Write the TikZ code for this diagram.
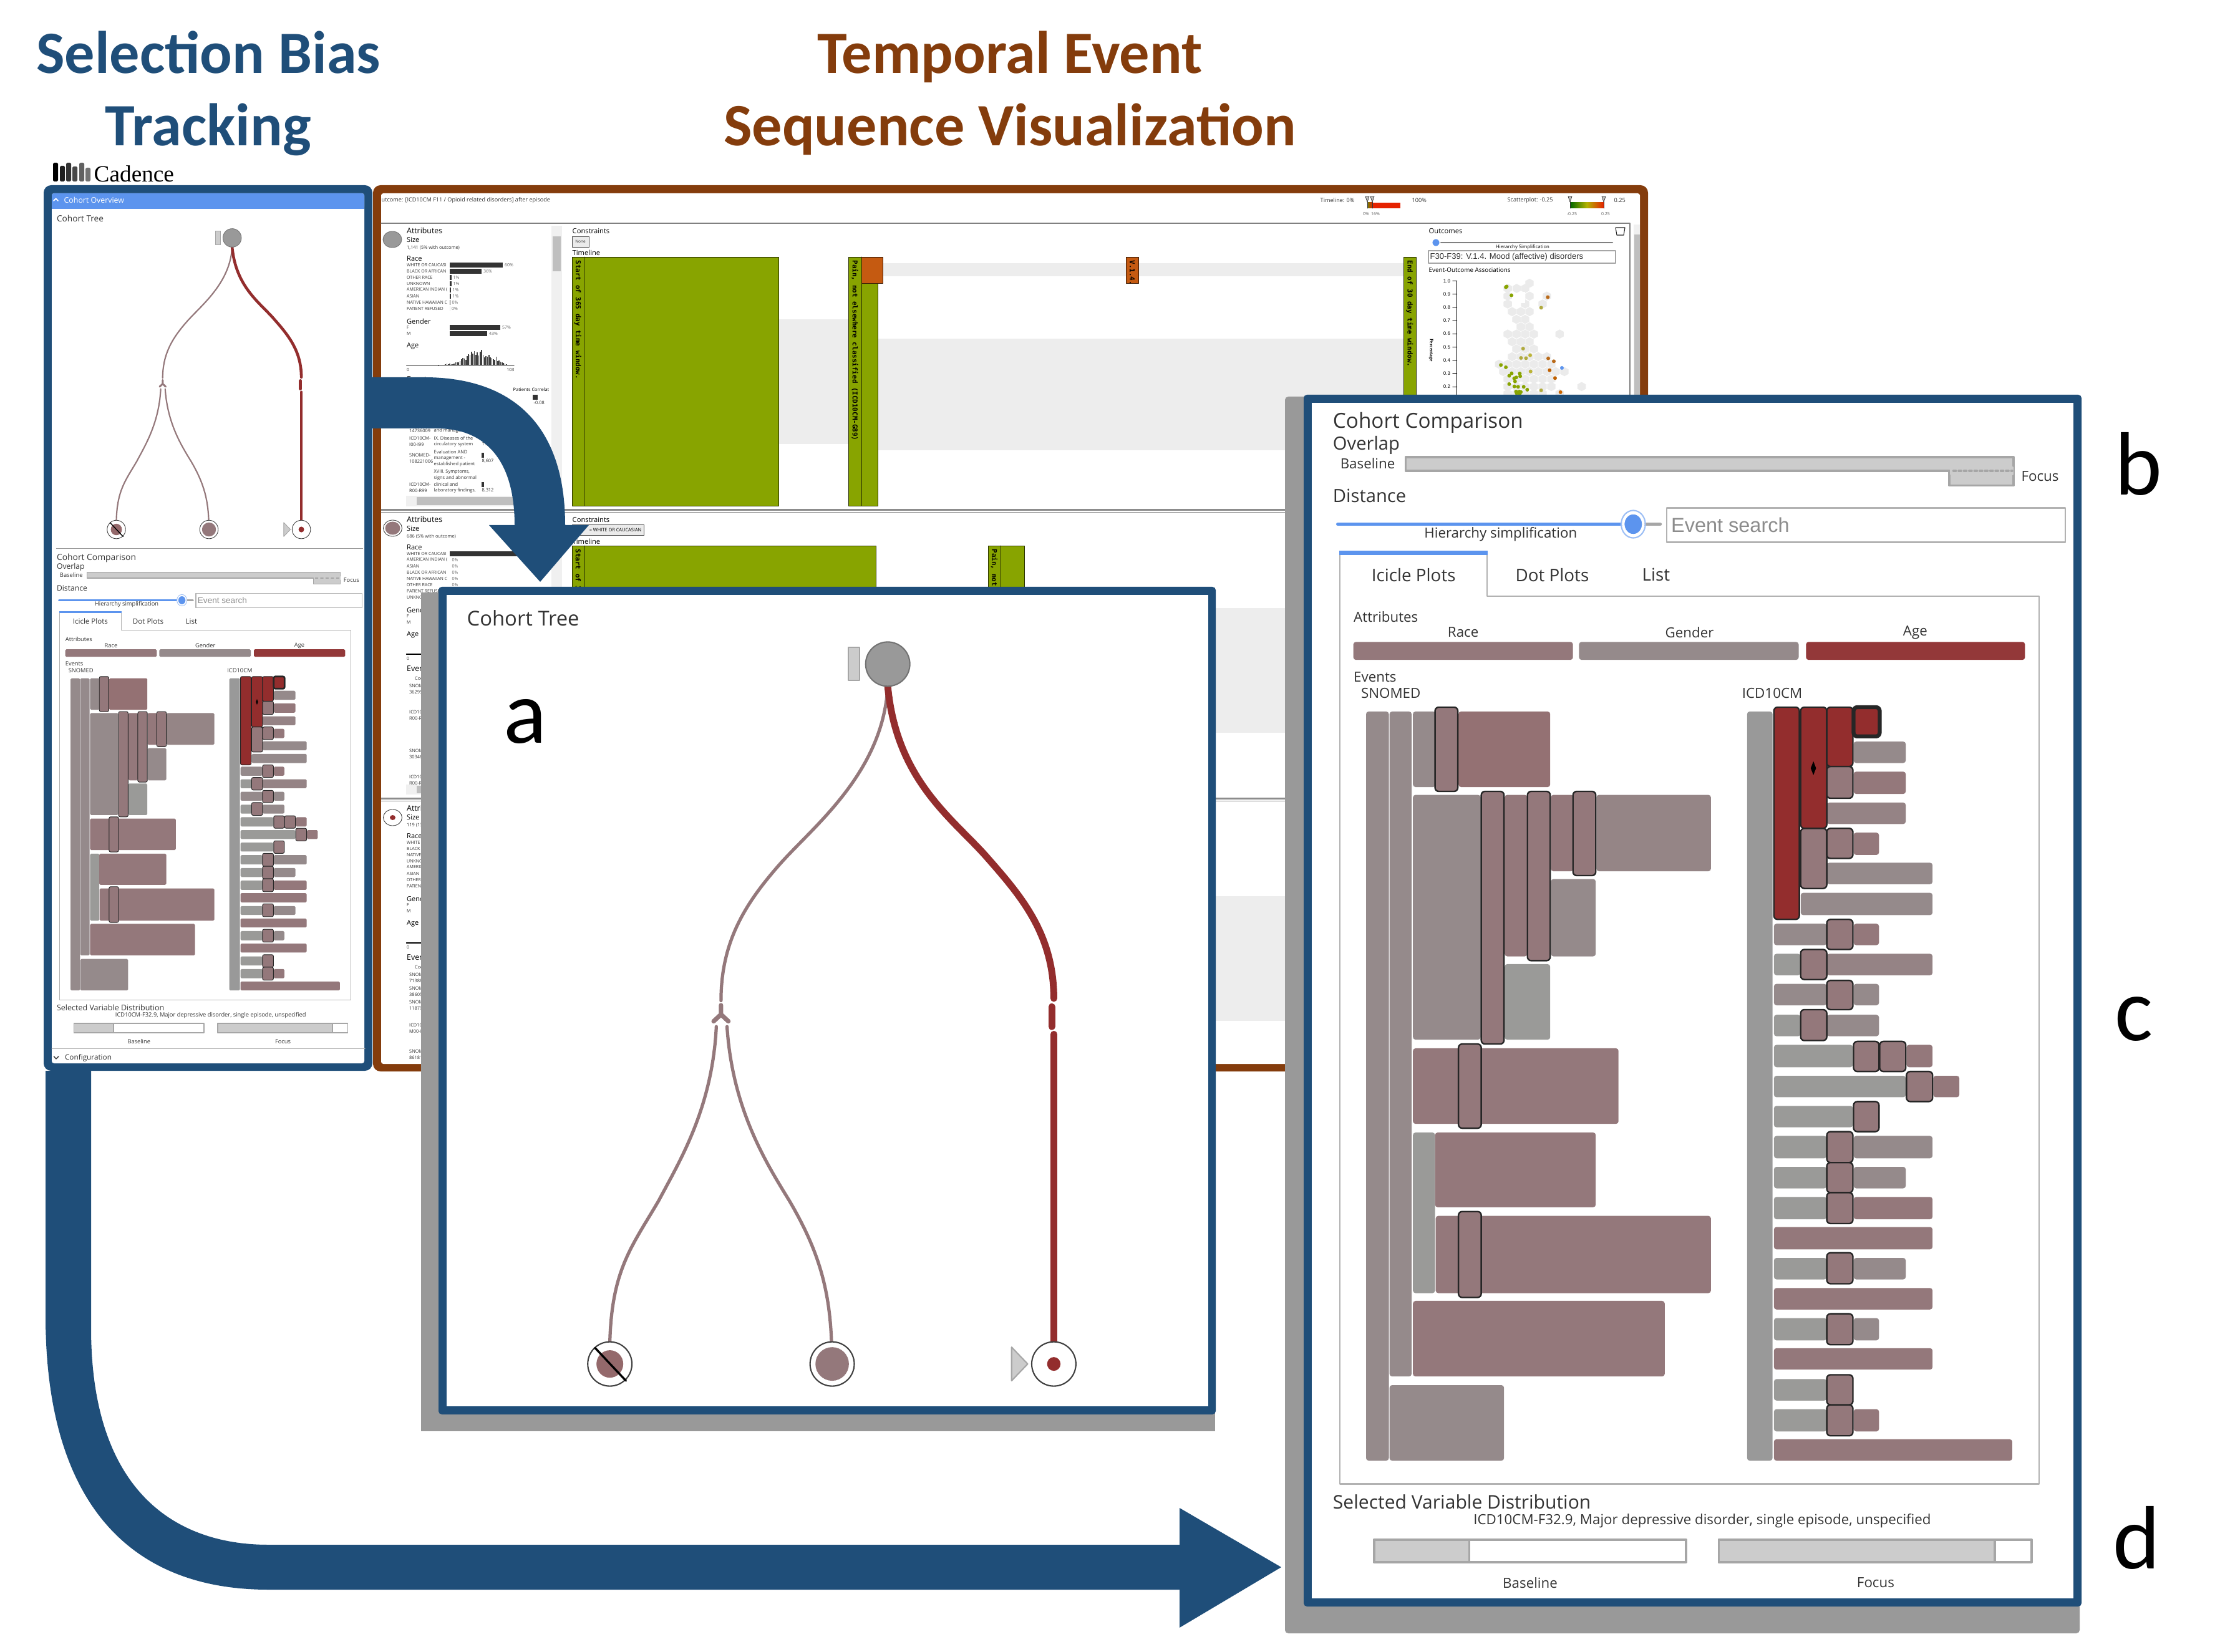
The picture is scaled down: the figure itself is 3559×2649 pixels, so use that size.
\documentclass[tikz,border=0pt]{standalone}
\usepackage{fontspec}
\usepackage{xcolor}
\setmainfont{Open Sans}
\newfontfamily\titlefont{Carlito}
\newfontfamily\cadfont{Liberation Serif}
\newfontfamily\arialfont{Liberation Sans}
\newfontfamily\barfont{DejaVu Sans Mono}
\definecolor{trackblue}{HTML}{1F4E79}
\definecolor{seqbrown}{HTML}{843C0C}
\definecolor{uiblue}{HTML}{5C94EE}
\definecolor{icegray}{HTML}{958A8B}
\definecolor{icerose}{HTML}{94787B}
\definecolor{iceplain}{HTML}{9A9A98}
\definecolor{icered}{HTML}{932D2D}
\definecolor{evgreen}{HTML}{88A400}
\definecolor{evorange}{HTML}{C55A11}
\definecolor{uitext}{HTML}{333333}
\newcommand{\fx}[1]{\fontsize{#1}{#1}\selectfont}
\newcommand{\fs}[1]{\pgfmathsetmacro\fsz{#1*1.08}\fontsize{\fsz}{\fsz}\selectfont}
\def\lwf{1}
\tikzset{
	lbl/.style={anchor=west,inner sep=0pt,text=uitext},
	clbl/.style={anchor=center,inner sep=0pt,text=uitext},
	icebar/.style={rounded corners=\lwf*0.5pt},
	icebox/.style={draw=black!85,fill=icerose,line width=\lwf*0.28pt,rounded corners=\lwf*0.7pt},
	uibar/.style={draw=black!35,fill=black!20,line width=\lwf*0.4pt},
	thinlink/.style={draw=icerose,line width=\lwf*0.62pt},
	thicklink/.style={draw=icered,line width=\lwf*1.3pt},
	leafdot/.style={draw=black!75,fill=white,line width=\lwf*0.25pt},
	evbar/.style={draw=black!70!evgreen,fill=evgreen,line width=0.25pt},
	vlabel/.style={rotate=-90,anchor=west,inner sep=0pt,font=\barfont\bfseries\fx{3.1},text=black},
	bandbg/.style={fill=black!7},
	bluebig/.style={fill=trackblue},
	bigtitle/.style={anchor=base,inner sep=0pt,font=\titlefont\bfseries\fx{27.4}},
	sideletter/.style={anchor=base,inner sep=0pt,font=\titlefont\fx{41},text=black},
}
% tree, coordinates of the small panel as read off a 2.24 x 1.96 crop
\newcommand{\cohorttree}{
	\begin{scope}[x=0.004464cm,y=-0.0051cm]
	\node[lbl,font=\fs{3.6}] at (202,237) {Cohort Tree};
	\draw[thinlink] (832,326) .. controls (825,440) and (720,510) .. (670,560) .. controls (620,610) and (583,660) .. (583,738);
	\draw[thicklink] (832,326) .. controls (845,450) and (930,500) .. (980,550) .. controls (1030,600) and (1080,650) .. (1080,735);
	\draw[thinlink,line width=\lwf*0.85pt] (583,744) -- (583,756) (572,765) -- (583,756) -- (594,765);
	\draw[thinlink] (576,772) .. controls (570,880) and (520,950) .. (490,1000) .. controls (450,1060) and (420,1090) .. (417,1185);
	\draw[thinlink] (592,772) .. controls (600,880) and (650,950) .. (685,1000) .. controls (725,1060) and (745,1110) .. (748,1185);
	\draw[thicklink] (1077,746) -- (1077,772);
	\draw[thicklink] (1080,782) -- (1080,1185);
	\draw[fill=black!20,draw=black!35,line width=\lwf*0.25pt] (773,275) rectangle (790,318);
	\draw[fill=black!40,draw=black!55,line width=\lwf*0.25pt] (832,297) ellipse [x radius=33,y radius=29];
	\draw[leafdot] (417,1214) ellipse [x radius=33,y radius=29];
	\fill[fill=icerose!80!icered] (417,1214) ellipse [x radius=20,y radius=18];
	\draw[black,line width=\lwf*0.4pt] (395,1193) -- (441,1236);
	\draw[leafdot] (749,1214) ellipse [x radius=33,y radius=29];
	\fill[fill=icerose] (749,1214) ellipse [x radius=25,y radius=22];
	\draw[leafdot] (1080,1214) ellipse [x radius=33,y radius=29];
	\fill[fill=icered] (1080,1214) ellipse [x radius=10,y radius=9];
	\draw[fill=black!20,draw=black!35,line width=\lwf*0.25pt] (1017,1192) -- (1041,1214) -- (1017,1236) -- cycle;
	\end{scope}
}
% comparison view, coordinates as read off a 2.24 x 1.742 crop
\newcommand{\comparison}{
	\begin{scope}[x=0.004464cm,y=-0.00574cm]
	\node[lbl,font=\fs{3.65}] at (202,78) {Cohort Comparison};
	\node[lbl,font=\fs{3.2}] at (202,104) {Overlap};
	\node[lbl,font=\fs{2.45}] at (213,125) {Baseline};
	\draw[uibar] (312,118) -- (1220,118) -- (1220,151) -- (1124,151) -- (1124,134) -- (312,134) -- cycle;
	\draw[fill=black!20,draw=black!20,line width=\lwf*0.4pt] (1126,130) rectangle (1218,138);
	\draw[black!35,dashed,line width=\lwf*0.4pt,dash pattern=on 1.2pt off 1.2pt] (1130,134) -- (1218,134);
	\node[lbl,font=\fs{2.45}] at (1230,140) {Focus};
	\node[lbl,font=\fs{3.2}] at (202,163) {Distance};
	\draw[uiblue,line width=\lwf*0.7pt] (211,196) -- (650,196);
	\draw[black!35,line width=\lwf*0.7pt] (650,196) -- (692,196);
	\draw[fill=uiblue,draw=white,line width=\lwf*0.5pt] (652,196) ellipse [x radius=15,y radius=13];
	\draw[draw=uiblue!60,line width=\lwf*0.25pt] (652,196) ellipse [x radius=18,y radius=16];
	\node[clbl,font=\fs{2.45}] at (454,208) {Hierarchy simplification};
	\draw[draw=black!30,line width=\lwf*0.3pt] (702,177) rectangle (1297,217);
	\node[lbl,text=black!45,font=\arialfont\fx{3.85}] at (707,197) {Event search};
	\draw[draw=black!30,line width=\lwf*0.25pt] (214,230) -- (214,1313) -- (1258,1313) -- (1258,280) -- (434,280) -- (434,230);
	\fill[uiblue] (213,227) rectangle (435,232);
	\node[clbl,font=\fs{3.05}] at (324,255) {Icicle Plots};
	\node[clbl,font=\fs{3.05}] at (531,255) {Dot Plots};
	\node[clbl,font=\fs{3.05}] at (686,255) {List};
	\node[lbl,font=\fs{2.45}] at (233,304) {Attributes};
	\node[clbl,font=\fs{2.45}] at (398,322) {Race};
	\node[clbl,font=\fs{2.45}] at (736,322) {Gender};
	\node[clbl,font=\fs{2.45}] at (1073,322) {Age};
	\node[lbl,font=\fs{2.45}] at (233,374) {Events};
	\node[lbl,font=\fs{2.45}] at (244,393) {SNOMED};
	\node[lbl,font=\fs{2.45}] at (813,393) {ICD10CM};
	\foreach \xa/\xb/\col in {234/562/icerose,571/899/icegray,910/1237/icered!85!icerose}
		\fill[icebar,fill=\col] (\xa,333) rectangle (\xb,354);
	% SNOMED part
	\foreach \xa/\ya/\xb/\yb/\col in {253/414/287/1286/icegray,288/414/321/1188/icegray,288/1198/459/1286/icegray,
		323/414/357/502/icegray,391/414/528/502/icerose!90!icered,323/511/424/796/icegray,460/511/494/699/icerose,
		529/511/563/600/icerose,597/511/768/600/icegray!70!icerose,529/609/596/699/icegray,460/708/528/796/iceplain,
		323/806/630/894/icerose,323/904/356/1091/iceplain,356/904/596/991/icerose,357/1001/768/1091/icerose,323/1100/699/1188/icerose}
		\fill[icebar,fill=\col] (\xa,\ya) rectangle (\xb,\yb);
	\foreach \xa/\ya/\xb/\yb in {356/409/390/507,425/507/459/801,494/507/528/704,562/507/596/605,391/801/425/899,391/996/425/1096}
		\draw[icebox] (\xa,\ya) rectangle (\xb,\yb);
	% ICD10CM part
	\fill[icebar,fill=black!40] (822,414) rectangle (860,1286);
	\foreach \xa/\ya/\xb/\yb/\col in {981/449/1059/474/icegray,981/484/1059/510/icerose,941/520/1059/545/icegray!60!icerose,
		981/555/1019/581/icerose,941/590/1099/615/icegray,902/625/1099/651/icegray,
		862/661/941/686/icegray,981/661/1019/686/icerose,862/696/902/721/iceplain,941/696/1099/721/icegray!60!icerose,
		862/731/941/756/icegray,981/731/1019/756/icegray,862/767/902/792/iceplain,941/767/1019/792/icegray,
		862/802/980/828/iceplain,1060/802/1099/828/icerose,862/838/1059/863/iceplain,1100/838/1139/863/icerose,
		862/873/980/898/iceplain,862/908/941/934/iceplain,981/908/1099/934/icegray,862/944/941/969/iceplain,981/944/1059/969/icegray,
		862/979/941/1005/iceplain,981/979/1099/1005/icerose,862/1014/1099/1040/icerose,862/1050/941/1075/iceplain,981/1050/1059/1075/icegray,
		862/1085/1099/1110/icerose,862/1120/941/1146/iceplain,981/1120/1019/1146/icegray,862/1155/1099/1180/icerose,
		862/1191/941/1216/iceplain,862/1226/941/1252/iceplain,981/1226/1019/1252/icerose,862/1261/1218/1286/icerose}
		\fill[icebar,fill=\col] (\xa,\ya) rectangle (\xb,\yb);
	\foreach \xa/\ya/\xb/\yb in {941/478/980/515,902/550/941/620,941/550/980/585,941/656/980/691,902/691/941/726,941/727/980/761,
		902/761/941/797,981/798/1019/833,1020/798/1059/833,1060/833/1099/868,981/868/1019/903,941/903/980/939,941/939/980/974,
		941/974/980/1010,941/1044/980/1080,941/1115/980/1151,941/1186/980/1221,941/1221/980/1257}
		\draw[icebox] (\xa,\ya) rectangle (\xb,\yb);
	\foreach \xa/\ya/\xb/\yb in {862/409/900/656,902/409/941/550,941/409/980/478}
		\draw[icebox,fill=icered] (\xa,\ya) rectangle (\xb,\yb);
	\draw[icebox,fill=icered,line width=\lwf*0.75pt] (981,409) rectangle (1020,443);
	\fill[black] (921,472) -- (925,480) -- (921,488) -- (917,480) -- cycle;
	% distribution
	\node[lbl,font=\fs{3.3}] at (202,1334) {Selected Variable Distribution};
	\node[clbl,font=\fs{2.45}] at (755,1356) {ICD10CM-F32.9, Major depressive disorder, single episode, unspecified};
	\draw[uibar,fill=white] (265,1378) rectangle (731,1404);
	\draw[uibar] (265,1378) rectangle (407,1404);
	\draw[uibar,fill=white] (780,1378) rectangle (1247,1404);
	\draw[uibar] (780,1378) rectangle (1192,1404);
	\node[clbl,font=\fs{2.45}] at (498,1428) {Baseline};
	\node[clbl,font=\fs{2.45}] at (1014,1428) {Focus};
	\end{scope}
}
\begin{document}
\begin{tikzpicture}[line cap=round,line join=round,x=0.01cm,y=-0.01cm]
\useasboundingbox (0,0) rectangle (3559,2649);
% titles
\node[bigtitle,text=trackblue] (selectiontitle) at (334,118) {Selection Bias};
\node[bigtitle,text=trackblue] (trackingtitle) at (334,234) {Tracking};
\node[bigtitle,text=seqbrown] (temporaltitle) at (1619,118) {Temporal Event};
\node[bigtitle,text=seqbrown] (sequencetitle) at (1619,234) {Sequence Visualization};
% logo
\foreach \xa/\tp/\col in {85/261/black,96/266/black!88,106/261/black!80,116/267/black!72,127/261/black!62,137/269/black!55}
	\fill[rounded corners=0.5pt,fill=\col] (\xa,\tp) rectangle (\xa+8,291);
\node[anchor=west,inner sep=0pt,font=\cadfont\fx{10.6},text=black] (cadence) at (150,279) {Cadence};
% left panel
\fill[trackblue,rounded corners=3.4pt] (70,297) rectangle (597,1717);
\fill[white,rounded corners=1pt] (83,310) rectangle (584,1705);
\fill[uiblue,rounded corners=1pt] (83,310) rectangle (584,335);
\fill[uiblue] (83,325) rectangle (584,335);
\draw[white,line width=0.5pt] (86,322) -- (89.5,318.5) -- (93,322);
\node[lbl,text=white,font=\fs{3.25}] at (102,321) {Cohort Overview};
\begin{scope}[shift={(0,230)}]
\cohorttree
\end{scope}
\begin{scope}[shift={(0,850)}]
\comparison
\begin{scope}[x=0.004464cm,y=-0.00574cm]
	\draw[black!40,line width=0.3pt] (202,51) -- (1300,51);
	\draw[black!30,line width=0.3pt] (186,1448) -- (1308,1448);
	\draw[uitext,line width=0.4pt] (193,1470) -- (201,1477) -- (210,1470);
	\node[lbl,font=\fs{3.1}] at (231,1474) {Configuration};
\end{scope}
\end{scope}
% brown panel
\fill[seqbrown,rounded corners=3.4pt] (598,297) rectangle (2642,1718);
\fill[white,rounded corners=1pt] (611,310) rectangle (2629,1706);
\node[lbl,font=\fs{2.4}] at (611,321) {utcome: [ICD10CM F11 / Opioid related disorders] after episode};
\foreach \xa/\tx in {2116/{Timeline: 0\%},2263/{100\%},2416/{Scatterplot: -0.25},2587/{0.25}}
	\node[lbl,font=\fs{2.4}] at (\xa,321.5) {\tx};
\foreach \xa/\tx in {2190/{0\%},2205/{16\%},2520/{-0.25},2574/{0.25}}
	\node[clbl,text=black!60,font=\fs{1.85}] at (\xa,343) {\tx};
\fill[fill=red!70!orange!90!black] (2200,325) rectangle (2245,334);
\shade[left color=evgreen!80!black,right color=red!70!orange!90!black] (2192,325) rectangle (2200,334);
\shade[left color=green!40!black,right color=yellow!70!black] (2517,325) rectangle (2544,334);
\shade[left color=yellow!70!black,right color=red!70!orange!90!black] (2544,325) rectangle (2571,334);
\foreach \xa in {2192,2200,2517,2571}{
	\draw[draw=black!80,fill=black!25,line width=0.2pt] (\xa-3,315) -- (\xa+3,315) -- (\xa,324) -- cycle;
	\draw[black!80,line width=0.25pt] (\xa,324) -- (\xa,334);
}
% background bands of the timelines
\fill[bandbg] (1415,422) rectangle (2250,443);
\fill[bandbg] (1248,512) rectangle (1360,712);
\fill[bandbg] (1407,543) rectangle (2250,722);
\fill[bandbg] (1949,975) rectangle (2064,1175);
\fill[bandbg] (1949,1437) rectangle (2064,1637);
% row rules
\draw[black!50,line width=0.35pt] (611,358) -- (2613,358) -- (2613,640);
\foreach \yy in {816,1279}{
	\fill[black!45] (611,\yy) rectangle (2613,\yy+3);
	\draw[black!45,line width=0.2pt] (611,\yy+5.5) -- (2613,\yy+5.5);
}
% scroll tracks
\fill[black!6] (2619,360) rectangle (2629,640);
\fill[black!25] (2620,376) rectangle (2629,640);
\fill[black!6] (884,362) rectangle (901,812);
\fill[black!25] (886,379) rectangle (899,435);
\fill[black!6] (884,825) rectangle (901,1000);
\fill[black!6] (651,795) rectangle (884,812);
\fill[black!25] (668,797) rectangle (884,810);
\fill[black!6] (651,1258) rectangle (884,1274);
\fill[black!25] (668,1260) rectangle (884,1272);
% row circles
\draw[draw=black!55,fill=black!40,line width=0.25pt] (629,384) ellipse [x radius=15,y radius=13];
\draw[leafdot] (629.5,847) ellipse [x radius=15,y radius=13];
\fill[icerose] (629.5,847) ellipse [x radius=12,y radius=10.5];
\draw[leafdot] (629.5,1311) ellipse [x radius=15,y radius=13];
\fill[icered] (629.5,1311) ellipse [x radius=4.5,y radius=4];
% row 1 attributes
\foreach \yy/\tx in {370/Attributes,608/Events}
	\node[lbl,text=black,font=\fs{3.25}] at (651.5,\yy) {\tx};
\foreach \yy/\tx in {385/Size,415/Race,515/Gender,555/Age}
	\node[lbl,text=black,font=\fs{2.9}] at (651.5,\yy) {\tx};
\node[lbl,font=\fs{1.95}] at (651.5,397) {1,141 (5\% with outcome)};
\foreach \yy/\tx/\xb/\pc in {425/WHITE OR CAUCASI/806/60\%,435/BLACK OR AFRICAN/772/36\%,445/OTHER RACE/723.5/1\%,455/UNKNOWN/723.5/1\%,
	465/AMERICAN INDIAN (/722.5/1\%,475/ASIAN/722.5/1\%,485/NATIVE HAWAIIAN C/721.5/0\%,495/PATIENT REFUSED/721/0\%,525/F/802/57\%,535/M/781/43\%}{
	\node[lbl,font=\fs{1.85}] at (651.5,\yy) {\tx};
	\fill[black!80] (721,\yy-4) rectangle (\xb,\yy+4);
	\node[lbl,text=black!60,font=\fs{1.85}] at (\xb+2.5,\yy) {\pc};
}
\begin{scope}[shift={(640,360)},x=0.00333cm,y=-0.00333cm]
	\foreach \hh [count=\ii] in {2,3,2,1,3,4,3,2,5,8,6,10,7,5,9,14,16,15,20,30,35,32,28,45,55,50,65,58,70,52,62,48,66,74,50,40,45,42,50,38,35,30,28,42,20,25,18,15,12,8,6,4,3,2}
		\fill[black!75] (160+7*\ii-3,679) rectangle (160+7*\ii+2,679-\hh);
	\draw[black,line width=0.3pt] (35,679) -- (553,679);
\end{scope}
\node[lbl,font=\fs{1.85}] at (651.5,593) {0};
\node[anchor=east,inner sep=0pt,text=uitext,font=\fs{1.85}] at (825,593) {103};
% row 1 table
\node[lbl,text=black,font=\fs{1.95}] at (822,625) {Patients Correlat};
\fill[black!6] (884,618) rectangle (901,632);
\fill[black!80] (854,633) rectangle (862,641);
\node[lbl,font=\fs{1.95}] at (855,646) {-0.08};
\foreach \yy/\tx in {691/14736009,703/ICD10CM-,713/I00-I99,730/SNOMED-,740/108221006,777/ICD10CM-,787/R00-R99}
	\node[lbl,font=\fs{1.95}] at (655.5,\yy) {\tx};
\foreach \yy/\tx in {691/and management,703/IX. Diseases of the,713/circulatory system,725/Evaluation AND/OR,735/management -,745/established patient,757/{XVIII. Symptoms,},767/signs and abnormal,777/clinical and,787/{laboratory findings,}}
	\node[lbl,font=\fs{1.95}] at (695,\yy) {\tx};
\foreach \ya/\xb/\tx in {699/778/{11,598},726/776/{8,607},773/776/{8,312}}{
	\fill[black!80] (772,\ya) rectangle (\xb,\ya+8);
	\node[lbl,font=\fs{1.95}] at (772,\ya+13) {\tx};
}
\fill[black!80] (821,773) rectangle (822,781);
\node[lbl,font=\fs{1.95}] at (821,786) {1};
% row 2 and 3 attributes
\foreach \ya/\sz/\la/\lb/\lc/\ld/\le/\lf/\lg/\lh in {
	833/{686 (5\% with outcome)}/WHITE OR CAUCASI/AMERICAN INDIAN (/ASIAN/BLACK OR AFRICAN/NATIVE HAWAIIAN C/OTHER RACE/PATIENT REFUSED/UNKNOWN,
	1296/{119 (13\% with outcome)}/WHITE OR CAUCASI/BLACK OR AFRICAN/NATIVE HAWAIIAN C/UNKNOWN/AMERICAN INDIAN (/ASIAN/OTHER RACE/PATIENT REFUSED}{
	\node[lbl,text=black,font=\fs{3.25}] at (651.5,\ya) {Attributes};
	\node[lbl,text=black,font=\fs{2.9}] at (651.5,\ya+15) {Size};
	\node[lbl,font=\fs{1.95}] at (651.5,\ya+27) {\sz};
	\node[lbl,text=black,font=\fs{2.9}] at (651.5,\ya+45) {Race};
	\node[lbl,font=\fs{1.85}] at (651.5,\ya+55) {\la};
	\node[lbl,font=\fs{1.85}] at (651.5,\ya+65) {\lb};
	\node[lbl,font=\fs{1.85}] at (651.5,\ya+75) {\lc};
	\node[lbl,font=\fs{1.85}] at (651.5,\ya+85) {\ld};
	\node[lbl,font=\fs{1.85}] at (651.5,\ya+95) {\le};
	\node[lbl,font=\fs{1.85}] at (651.5,\ya+105) {\lf};
	\node[lbl,font=\fs{1.85}] at (651.5,\ya+115) {\lg};
	\node[lbl,font=\fs{1.85}] at (651.5,\ya+125) {\lh};
	\node[lbl,text=black,font=\fs{2.9}] at (651.5,\ya+145) {Gender};
	\node[lbl,font=\fs{1.85}] at (651.5,\ya+155) {F};
	\node[lbl,font=\fs{1.85}] at (651.5,\ya+165) {M};
	\node[lbl,text=black,font=\fs{2.9}] at (651.5,\ya+185) {Age};
	\draw[black,line width=0.3pt] (651.5,\ya+216) -- (824,\ya+216);
	\node[lbl,font=\fs{1.85}] at (651.5,\ya+223) {0};
	\node[lbl,text=black,font=\fs{3.25}] at (651.5,\ya+239) {Events};
	\node[clbl,font=\fs{1.95}] at (674,\ya+255) {Code};
}
\fill[black!80] (721,884) rectangle (850,892);
\foreach \yy in {898,908,918,928,938}
	\node[lbl,text=black!60,font=\fs{1.85}] at (724,\yy) {0\%};
\foreach \yy/\tx in {1100/SNOMED-,1110/362958002,1142/ICD10CM-,1152/R00-R99,1204/SNOMED-,1214/30346009,1246/ICD10CM-,1256/R00-R69,
	1563/SNOMED-,1573/71388002,1585/SNOMED-,1595/386053000,1607/SNOMED-,1617/118797008,1644/ICD10CM-,1654/M00-M99,1686/SNOMED-,1696/86181006}
	\node[lbl,font=\fs{1.95}] at (655.5,\yy) {\tx};
% constraints and timelines
\foreach \yy/\tx in {370/Constraints,405/Timeline,833/Constraints,868/Timeline}
	\node[lbl,text=black,font=\fs{2.95}] at (917,\yy) {\tx};
\draw[draw=black!70,fill=black!8,line width=0.25pt] (917,379) rectangle (944,396);
\node[clbl,font=\fs{1.7}] at (930.5,387.5) {None};
\draw[draw=black!70,fill=black!8,line width=0.25pt] (917,841) rectangle (1032,858);
\node[anchor=east,inner sep=0pt,text=black,font=\fs{1.95}] at (1029,850) {= WHITE OR CAUCASIAN};
\draw[evbar] (917,412) rectangle (1248,811);
\draw[evbar] (936,412) -- (936,811);
\draw[evbar] (1360,412) rectangle (1407,811);
\draw[evbar] (1381,412) -- (1381,811);
\draw[draw=black!70!evorange,fill=evorange,line width=0.25pt] (1381,412) rectangle (1415,454);
\draw[draw=black!70!evorange,fill=evorange,line width=0.25pt] (1805,412) rectangle (1825,454);
\draw[evbar] (2250,412) rectangle (2270,640);
\draw[evbar] (917,875) rectangle (1404,1000);
\draw[evbar] (937,875) -- (937,1000);
\draw[evbar] (1584,875) rectangle (1642,1000);
\draw[evbar] (1604,875) -- (1604,1000);
\node[vlabel] at (926.5,417) {Start of 365 day time window.};
\node[vlabel] at (1370.5,417) {Pain, not elsewhere classified (ICD10CM-G89)};
\node[vlabel] at (1815,417) {V.1.4.};
\node[vlabel] at (2260,417) {End of 30 day time window.};
\node[vlabel] at (927,880) {Start of 3};
\node[vlabel] at (1594,880) {Pain, not};
% outcomes
\node[lbl,text=black,font=\fs{2.95}] at (2290,370) {Outcomes};
\draw[black!85,line width=0.3pt,fill=white] (2590,365) -- (2605,365) -- (2603,377) -- (2592,377) -- cycle;
\draw[black!50,line width=0.7pt] (2302,389) -- (2585,389);
\draw[fill=uiblue,draw=white,line width=0.5pt] (2302,389) ellipse [x radius=6.5,y radius=6.5];
\node[clbl,text=black,font=\fs{2.05}] at (2441,396.5) {Hierarchy Simplification};
\draw[black!35,line width=0.3pt] (2290,402) rectangle (2590,422);
\node[lbl,font=\arialfont\fx{3.7}] at (2292,412) {F30-F39: V.1.4. Mood (affective) disorders};
\node[lbl,text=black,font=\fs{2.6}] at (2290,433) {Event-Outcome Associations};
\begin{scope}[shift={(2280,355)},x=0.00333cm,y=-0.00333cm]
	\foreach \hy/\hxs in {298/{517},323/{412,455,496},360/{412,517,600},398/{412,496,580},435/{433,475,517},472/{454,496},508/{475,517},
		543/{412,454,496,538,662},580/{433,475,517},615/{454,496,538},652/{433,475,517,559,600},688/{370,412,454,496,538,580,622},
		724/{391,433,475,517,559,601,643,685},760/{412,454,496,538,580,622},796/{412,454,496,538,580,622,768},830/{412,454,496,538,580,662}}
		\foreach \hx in \hxs
			\fill[black!8] (\hx,\hy-22) -- (\hx+20,\hy-11) -- (\hx+20,\hy+11) -- (\hx,\hy+22) -- (\hx-20,\hy+11) -- (\hx-20,\hy-11) -- cycle;
	\fill[white] (465,340) rectangle (495,395);
	\draw[black,line width=0.35pt] (167,287) -- (167,840);
	\foreach \yy/\tx in {287/1.0,350/0.9,414/0.8,478/0.7,541/0.6,605/0.5,669/0.4,733/0.3,797/0.2}{
		\draw[black,line width=0.3pt] (147,\yy) -- (167,\yy);
		\node[anchor=east,inner sep=0pt,text=black,font=\arialfont\fx{2.25}] at (137,\yy) {\tx};
	}
	\node[rotate=-90,inner sep=0pt,text=black,font=\cadfont\bfseries\fx{2.2}] at (43,620) {Percentage};
	\foreach \px/\py/\col in {403/317/evgreen,407/314/evgreen,430/356/evgreen,379/692/evgreen,403/703/evgreen,431/732/evgreen,419/744/evgreen,419/784/evgreen,447/771/evgreen,
		443/756/evgreen,453/752/evgreen,470/733/evgreen,472/746/evgreen,444/795/evgreen,462/797/evgreen,489/797/evgreen,506/811/evgreen,452/820/evgreen,468/820/evgreen,475/822/evgreen,455/828/evgreen,470/830/evgreen,
		486/613/yellow!65!black,476/658/yellow!65!black,500/659/yellow!65!black,520/645/yellow!70!black,522/723/yellow!70!black,573/416/yellow!65!black,573/814/yellow!65!black,
		605/365/orange!70!black!90,607/660/orange!70!black!90,634/674/orange!70!black!90,614/717/orange!75!black,640/755/orange!75!black,666/823/orange!80!black,673/706/uiblue}
		\fill[fill=\col] (\px,\py) circle (9);
\end{scope}
% arrow over the panels
\fill[bluebig] (597,605) -- (680,605) .. controls (820,605) and (906,680) .. (906,842) -- (944,842) -- (866,933) -- (784,842) -- (825,842) .. controls (825,740) and (780,687) .. (700,687) -- (597,687) -- cycle;
% inset a
\fill[black!40] (675,950) rectangle (1948,2295);
\fill[trackblue,rounded corners=1.5pt] (703,941) rectangle (1949,2268);
\fill[white] (716,954) rectangle (1937,2255);
\begin{scope}[shift={(530,701.4)},scale=2.4,transform shape]
\def\lwf{2.4}
\cohorttree
\end{scope}
\node[sideletter] (panela) at (842,1192) {a};
% long arrow to the lower right
\fill[bluebig] (73,1717) -- (73,2110) .. controls (73,2400) and (200,2549) .. (430,2549) -- (1891,2549) -- (1891,2610) -- (2054,2513) -- (1891,2418) -- (1891,2477) -- (430,2477) .. controls (280,2477) and (146,2390) .. (146,2130) -- (146,1717) -- cycle;
% panel with comparison
\fill[black!40,rounded corners=1.5pt] (2060,636) rectangle (3334,2619);
\fill[trackblue,rounded corners=1.5pt] (2090,633) rectangle (3337,2576);
\fill[white] (2103,646) rectangle (3324,2563);
\begin{scope}[shift={(1918.4,570.5)},scale=2.4,transform shape]
\def\lwf{2.4}
\comparison
\end{scope}
\node[sideletter] (panelb) at (3428,794) {b};
\node[sideletter] (panelc) at (3421,1668) {c};
\node[sideletter] (paneld) at (3425,2515) {d};
\end{tikzpicture}
\end{document}
